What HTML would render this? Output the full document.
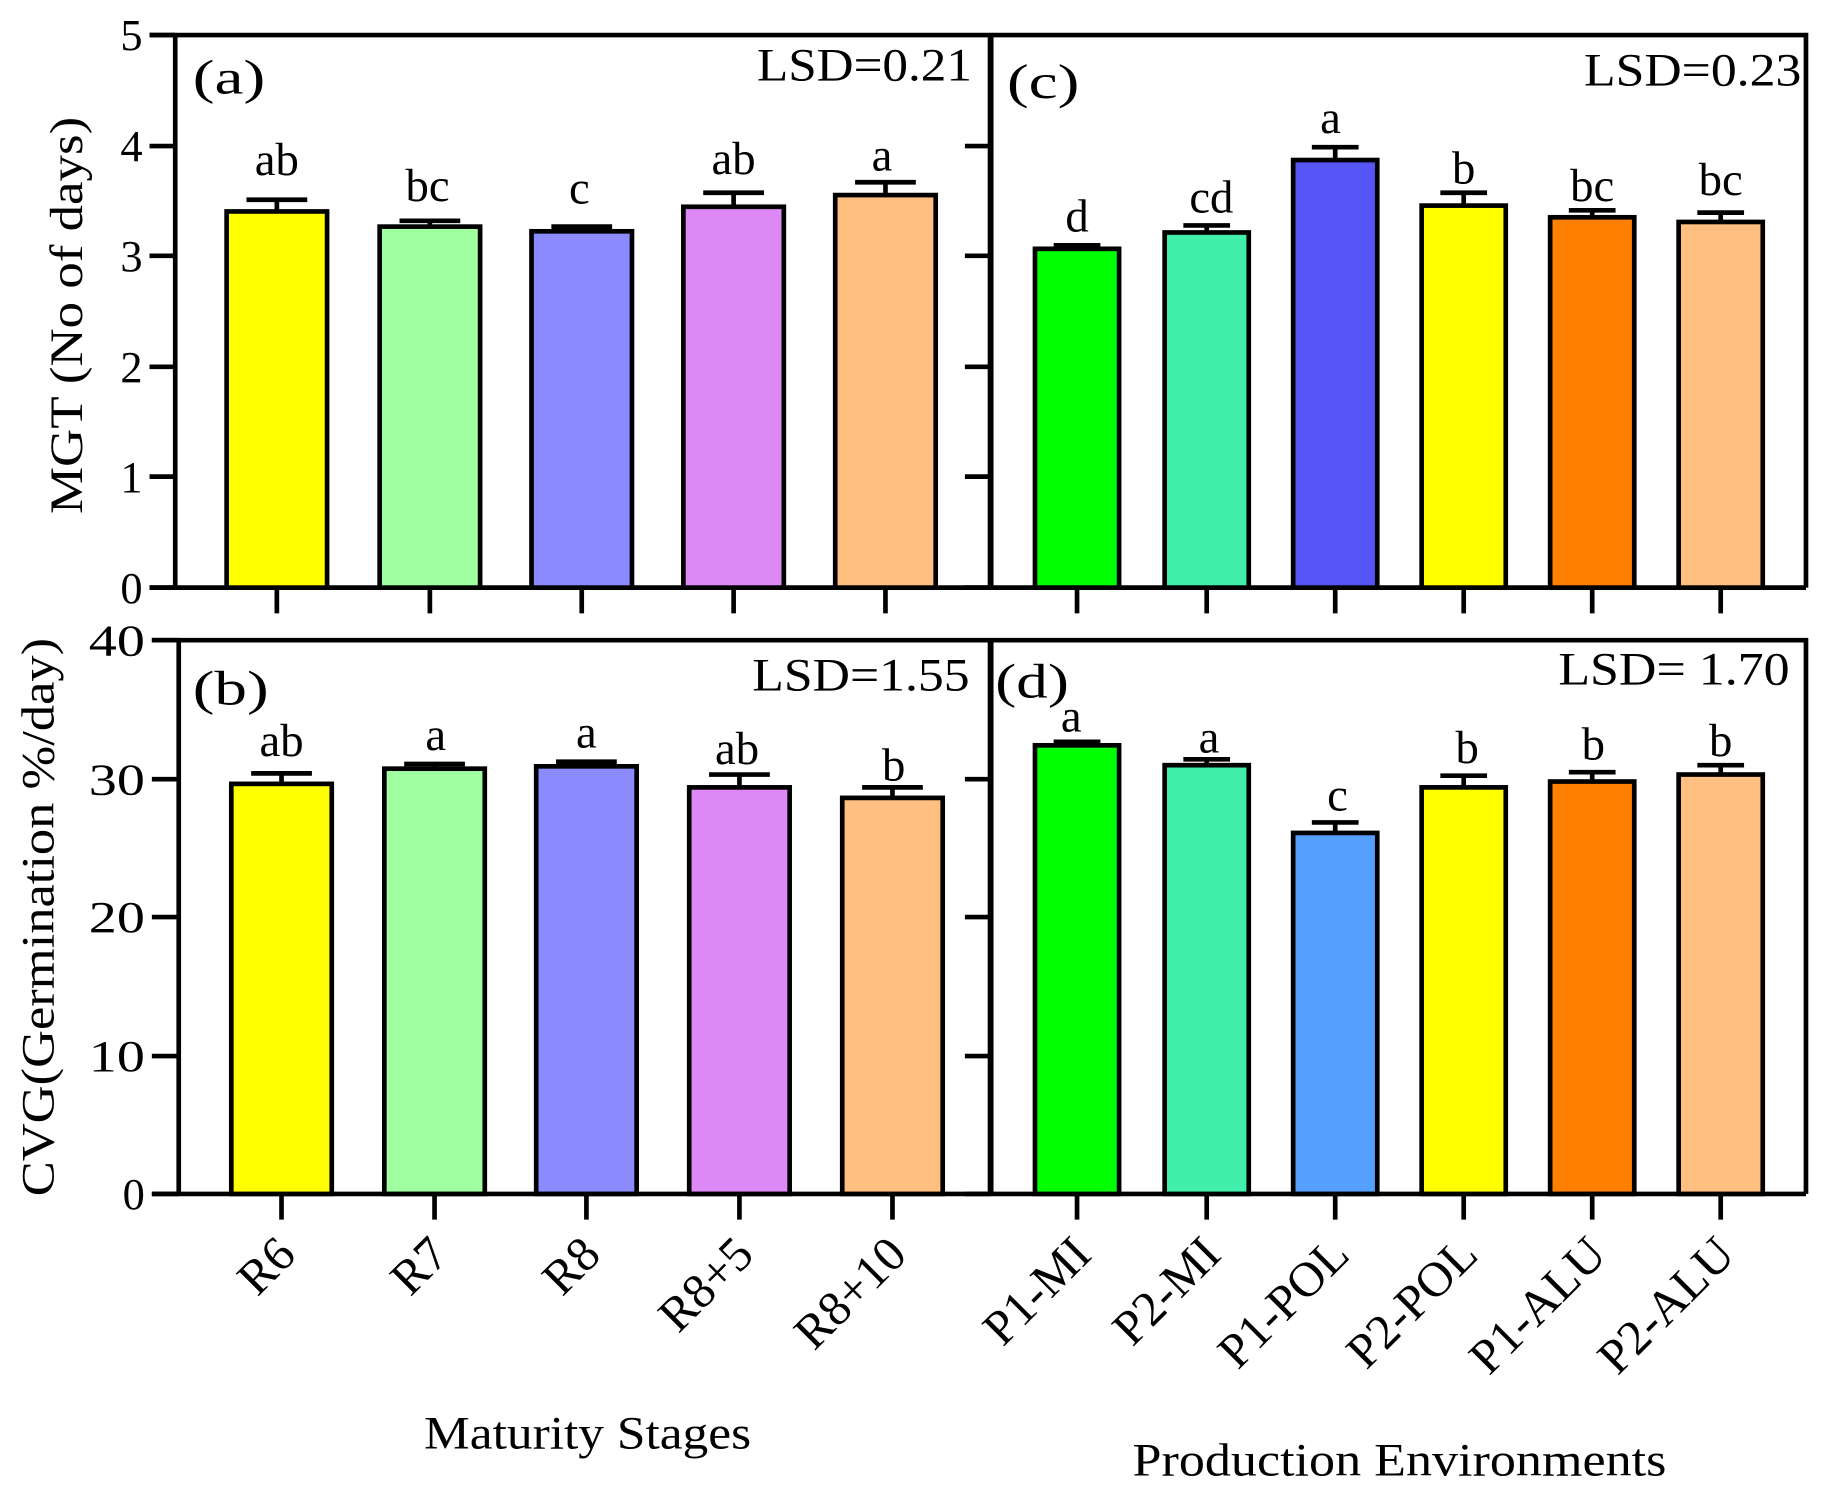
<!DOCTYPE html>
<html><head><style>html,body{margin:0;padding:0;background:#fff}svg{display:block}svg text{font-family:"Liberation Serif","Times New Roman",serif}</style></head>
<body>
<svg width="1827" height="1507" viewBox="0 0 1564 1290" preserveAspectRatio="none" xmlns="http://www.w3.org/2000/svg" fill="#000">
<rect width="1564" height="1290" fill="#fff"/>
<g stroke="#000" stroke-width="4" fill="none">
<polyline points="128,30 1546,30 1546,503"/>
<line x1="150" y1="30" x2="150" y2="503"/>
<line x1="848" y1="30" x2="848" y2="503" stroke-width="5"/>
<line x1="128" y1="503" x2="848" y2="503"/>
<line x1="826" y1="503" x2="1546" y2="503"/>
<polyline points="130,548 1546,548 1546,1022"/>
<line x1="153" y1="548" x2="153" y2="1022"/>
<line x1="848" y1="548" x2="848" y2="1022" stroke-width="5"/>
<line x1="130" y1="1022" x2="848" y2="1022"/>
<line x1="826" y1="1022" x2="1546" y2="1022"/>
<path d="M128 30H150M128 125H150M128 219H150M128 314H150M128 408H150M128 503H150"/>
<path d="M826 125H848M826 219H848M826 314H848M826 408H848"/>
<path d="M130 548H153M130 667H153M130 785H153M130 904H153M130 1022H153"/>
<path d="M826 667H848M826 785H848M826 904H848"/>
<path d="M237 503V525M368 503V525M498 503V525M628 503V525M758 503V525"/>
<path d="M922 503V525M1033 503V525M1143 503V525M1253 503V525M1363 503V525M1473 503V525"/>
<path d="M241 1022V1044M372 1022V1044M502 1022V1044M633 1022V1044M764 1022V1044"/>
<path d="M922 1022V1044M1033 1022V1044M1143 1022V1044M1253 1022V1044M1363 1022V1044M1473 1022V1044"/>
</g>
<g font-size="38" text-anchor="end">
<text x="122" y="43">5</text><text x="122" y="138">4</text><text x="122" y="232">3</text><text x="122" y="327">2</text><text x="122" y="421">1</text><text x="122" y="516">0</text>
<text x="124" y="561" textLength="48" lengthAdjust="spacingAndGlyphs">40</text><text x="124" y="680" textLength="48" lengthAdjust="spacingAndGlyphs">30</text><text x="124" y="798" textLength="48" lengthAdjust="spacingAndGlyphs">20</text><text x="124" y="917" textLength="48" lengthAdjust="spacingAndGlyphs">10</text><text x="124" y="1035">0</text>
</g>
<text transform="translate(70,270) rotate(-90)" font-size="40" text-anchor="middle" textLength="340" lengthAdjust="spacingAndGlyphs">MGT (No of days)</text>
<text transform="translate(46,785) rotate(-90)" font-size="40" text-anchor="middle" textLength="478" lengthAdjust="spacingAndGlyphs">CVG(Germination %/day)</text>
<g font-size="42">
<text x="165" y="80" textLength="62" lengthAdjust="spacingAndGlyphs">(a)</text><text x="862" y="84" textLength="62" lengthAdjust="spacingAndGlyphs">(c)</text>
<text x="165" y="603" textLength="65" lengthAdjust="spacingAndGlyphs">(b)</text><text x="852" y="597" textLength="63" lengthAdjust="spacingAndGlyphs">(d)</text>
</g>
<g font-size="40" text-anchor="end">
<text x="832" y="69" textLength="184" lengthAdjust="spacingAndGlyphs">LSD=0.21</text><text x="1542" y="73" textLength="186" lengthAdjust="spacingAndGlyphs">LSD=0.23</text>
<text x="830" y="591" textLength="186" lengthAdjust="spacingAndGlyphs">LSD=1.55</text><text x="1532" y="586" textLength="198" lengthAdjust="spacingAndGlyphs">LSD= 1.70</text>
</g>
<g stroke="#000" stroke-width="4">
<rect x="194" y="181" width="86" height="322" fill="#ffff00"/>
<rect x="325" y="194" width="86" height="309" fill="#a0ff9f"/>
<rect x="455" y="198" width="86" height="305" fill="#8b8bff"/>
<rect x="585" y="177" width="86" height="326" fill="#dd88f5"/>
<rect x="715" y="167" width="86" height="336" fill="#ffbf80"/>
<rect x="886" y="213" width="72" height="290" fill="#00ff00"/>
<rect x="997" y="199" width="72" height="304" fill="#40efaa"/>
<rect x="1107" y="137" width="72" height="366" fill="#5555f5"/>
<rect x="1217" y="176" width="72" height="327" fill="#ffff00"/>
<rect x="1327" y="186" width="72" height="317" fill="#ff8000"/>
<rect x="1437" y="190" width="72" height="313" fill="#ffbf80"/>
<rect x="198" y="671" width="86" height="351" fill="#ffff00"/>
<rect x="329" y="658" width="86" height="364" fill="#a0ff9f"/>
<rect x="459" y="656" width="86" height="366" fill="#8b8bff"/>
<rect x="590" y="674" width="86" height="348" fill="#dd88f5"/>
<rect x="721" y="683" width="86" height="339" fill="#ffbf80"/>
<rect x="886" y="638" width="72" height="384" fill="#00ff00"/>
<rect x="997" y="655" width="72" height="367" fill="#40efaa"/>
<rect x="1107" y="713" width="72" height="309" fill="#55a0ff"/>
<rect x="1217" y="674" width="72" height="348" fill="#ffff00"/>
<rect x="1327" y="669" width="72" height="353" fill="#ff8000"/>
<rect x="1437" y="663" width="72" height="359" fill="#ffbf80"/>
<path fill="none" d="M237 181V171M211 171H263 M368 194V189M342 189H394 M498 198V194M472 194H524 M628 177V165M602 165H654 M758 167V156M732 156H784
M922 213V210M902 210H942 M1033 199V193M1013 193H1053 M1143 137V126M1123 126H1163 M1253 176V165M1233 165H1273 M1363 186V180M1343 180H1383 M1473 190V182M1453 182H1493
M241 671V662M215 662H267 M372 658V654M346 654H398 M502 656V652M476 652H528 M633 674V663M607 663H659 M764 683V674M738 674H790
M922 638V635M902 635H942 M1033 655V650M1013 650H1053 M1143 713V704M1123 704H1163 M1253 674V664M1233 664H1273 M1363 669V661M1343 661H1383 M1473 663V655M1453 655H1493"/>
</g>
<g font-size="40" text-anchor="middle">
<text x="237" y="150">ab</text><text x="366" y="172">bc</text><text x="496" y="174">c</text><text x="628" y="149">ab</text><text x="755" y="146">a</text>
<text x="922" y="198">d</text><text x="1037" y="182">cd</text><text x="1139" y="114">a</text><text x="1253" y="157">b</text><text x="1363" y="172">bc</text><text x="1473" y="167">bc</text>
<text x="241" y="647">ab</text><text x="373" y="642">a</text><text x="502" y="640">a</text><text x="631" y="654">ab</text><text x="765" y="668">b</text>
<text x="917" y="626">a</text><text x="1035" y="644">a</text><text x="1145" y="694">c</text><text x="1256" y="653">b</text><text x="1364" y="650">b</text><text x="1473" y="647">b</text>
</g>
<g font-size="42" text-anchor="end">
<text transform="translate(255,1076) rotate(-45)">R6</text>
<text transform="translate(386,1076) rotate(-45)">R7</text>
<text transform="translate(516,1076) rotate(-45)">R8</text>
<text transform="translate(647,1076) rotate(-45)">R8+5</text>
<text transform="translate(778,1076) rotate(-45)">R8+10</text>
<text transform="translate(936,1076) rotate(-45)">P1-MI</text>
<text transform="translate(1047,1076) rotate(-45)">P2-MI</text>
<text transform="translate(1157,1076) rotate(-45)">P1-POL</text>
<text transform="translate(1267,1076) rotate(-45)">P2-POL</text>
<text transform="translate(1377,1076) rotate(-45)">P1-ALU</text>
<text transform="translate(1487,1076) rotate(-45)">P2-ALU</text>
</g>
<text x="503" y="1240" font-size="40" text-anchor="middle" textLength="280" lengthAdjust="spacingAndGlyphs">Maturity Stages</text>
<text x="1198" y="1263" font-size="40" text-anchor="middle" textLength="457" lengthAdjust="spacingAndGlyphs">Production Environments</text>
</svg>
</body></html>
